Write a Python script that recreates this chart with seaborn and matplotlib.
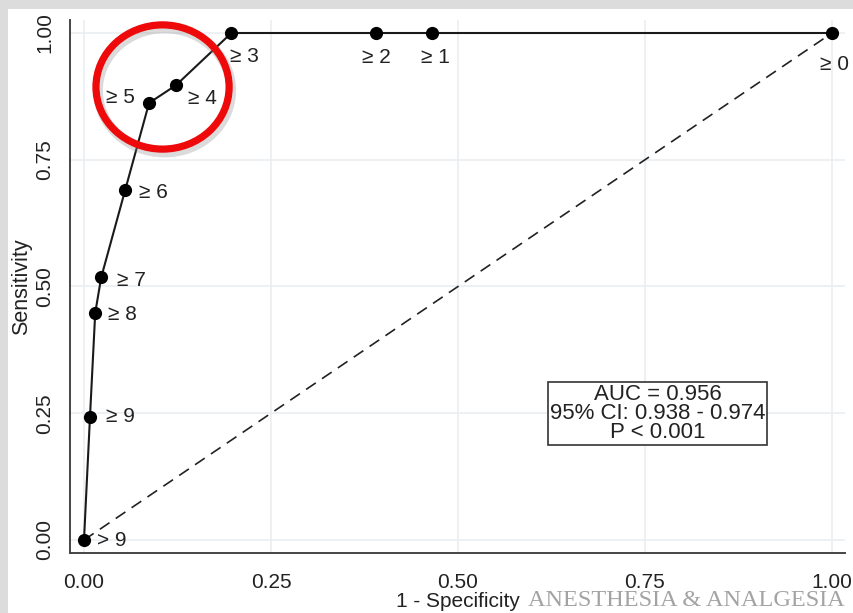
import numpy as np
import pandas as pd
import matplotlib.pyplot as plt
import seaborn as sns
from matplotlib.patches import Ellipse, Rectangle
import matplotlib.patheffects as pe

# ROC points (cut-off, 1 - specificity, sensitivity)
cutoffs = ['> 9', '≥ 9', '≥ 8', '≥ 7', '≥ 6', '≥ 5', '≥ 4', '≥ 3', '≥ 2', '≥ 1', '≥ 0']
one_minus_spec = [0.0, 0.008, 0.015, 0.023, 0.055, 0.087, 0.123, 0.197, 0.390, 0.465, 1.0]
sensitivity = [0.0, 0.243, 0.448, 0.518, 0.690, 0.862, 0.897, 1.0, 1.0, 1.0, 1.0]
ticks = [0.0, 0.25, 0.5, 0.75, 1.0]
tick_labels = ['0.00', '0.25', '0.50', '0.75', '1.00']
stats_text = 'AUC = 0.956\n95% CI: 0.938 - 0.974\nP < 0.001'

df = pd.DataFrame({'cut': cutoffs, 'fpr': one_minus_spec, 'sens': sensitivity})

sns.set_theme(style='whitegrid', rc={'grid.color': '#e9eef1', 'grid.linewidth': 1.1,
                                     'axes.edgecolor': '#444444', 'axes.linewidth': 1.4})
plt.rcParams['font.family'] = ['Liberation Sans', 'DejaVu Sans']

fig = plt.figure(figsize=(8.54, 6.13), dpi=100, facecolor='#dcdcdc')
fig.patches.append(Rectangle((8 / 854, 0), 1, 1 - 9 / 613, transform=fig.transFigure,
                             facecolor='white', edgecolor='none', zorder=-1))
ax = fig.add_axes([70 / 854, 1 - 553 / 613, 775 / 854, 533 / 613])

# chance line
ax.plot([df.fpr.iloc[0], df.fpr.iloc[-1]], [df.sens.iloc[0], df.sens.iloc[-1]],
        color='#222222', lw=1.2, dashes=(7, 4.5), zorder=2)

sns.lineplot(data=df, x='fpr', y='sens', sort=False, estimator=None, ax=ax,
             color='#1a1a1a', lw=1.5, marker='o', markersize=9.5,
             markeredgewidth=0, markerfacecolor='black', zorder=3)

# label offsets in pixels (dx, dy, ha)
offs = {'> 9': (13, 0, 'left'), '≥ 9': (16, 0, 'left'), '≥ 8': (13, -2, 'left'),
        '≥ 7': (16, -3, 'left'), '≥ 6': (14, -2, 'left'), '≥ 5': (-14, 5, 'right'),
        '≥ 4': (12, -13, 'left'), '≥ 3': (-1, -24, 'left'), '≥ 2': (1, -25, 'center'),
        '≥ 1': (4, -25, 'center'), '≥ 0': (3, -32, 'center')}
for _, r in df.iterrows():
    dx, dy, ha = offs[r.cut]
    ax.annotate(r.cut, (r.fpr, r.sens), xytext=(dx * 0.72, dy * 0.72),
                textcoords='offset points', ha=ha, va='center',
                fontsize=15, color='#222222', zorder=4)

ax.text(0.7667, 0.2495, stats_text, ha='center', va='center', fontsize=16,
        color='#222222', linespacing=0.88, zorder=5,
        bbox=dict(boxstyle='square,pad=0.1', facecolor='white',
                  edgecolor='#333333', lw=1.2))

# red highlight circle around cut-offs 5 and 4
p5 = df[df.cut == '≥ 5'].iloc[0]
p4 = df[df.cut == '≥ 4'].iloc[0]
cx = (p5.fpr + p4.fpr) / 2
cy = (p5.sens + p4.sens) / 2 + 0.014
circ = Ellipse((cx, cy), 0.178, 0.245, fill=False, edgecolor='#ee0a0a', lw=5.2, zorder=6,
               path_effects=[pe.SimpleLineShadow(offset=(1.5, -2.5), shadow_color='#888888',
                                                 alpha=0.3, linewidth=7), pe.Normal()])
ax.add_patch(circ)

ax.set_xlim(-14 / 748, 1 + 13 / 748)
ax.set_ylim(-13 / 507, 1 + 13 / 507)
ax.set_xticks(ticks)
ax.set_xticklabels(tick_labels)
ax.set_yticks(ticks)
ax.set_yticklabels(tick_labels, rotation=90, va='center')
ax.tick_params(axis='both', which='both', length=6.5, width=1.2, color='#444444',
               labelsize=15, labelcolor='#222222', direction='out')
ax.tick_params(axis='x', pad=8)
ax.tick_params(axis='y', pad=5)
ax.set_xlabel('1 - Specificity', fontsize=15, color='#222222', labelpad=0)
ax.set_ylabel('Sensitivity', fontsize=15.5, color='#222222', labelpad=2)
sns.despine(ax=ax)
ax.grid(True)

fig.text(845 / 854, 1 - 601 / 613, 'ANESTHESIA & ANALGESIA', ha='right', va='center',
         fontsize=17.5, family='Liberation Serif', color='#a3a3a3')

plt.savefig('out.png', dpi=100, facecolor=fig.get_facecolor())
